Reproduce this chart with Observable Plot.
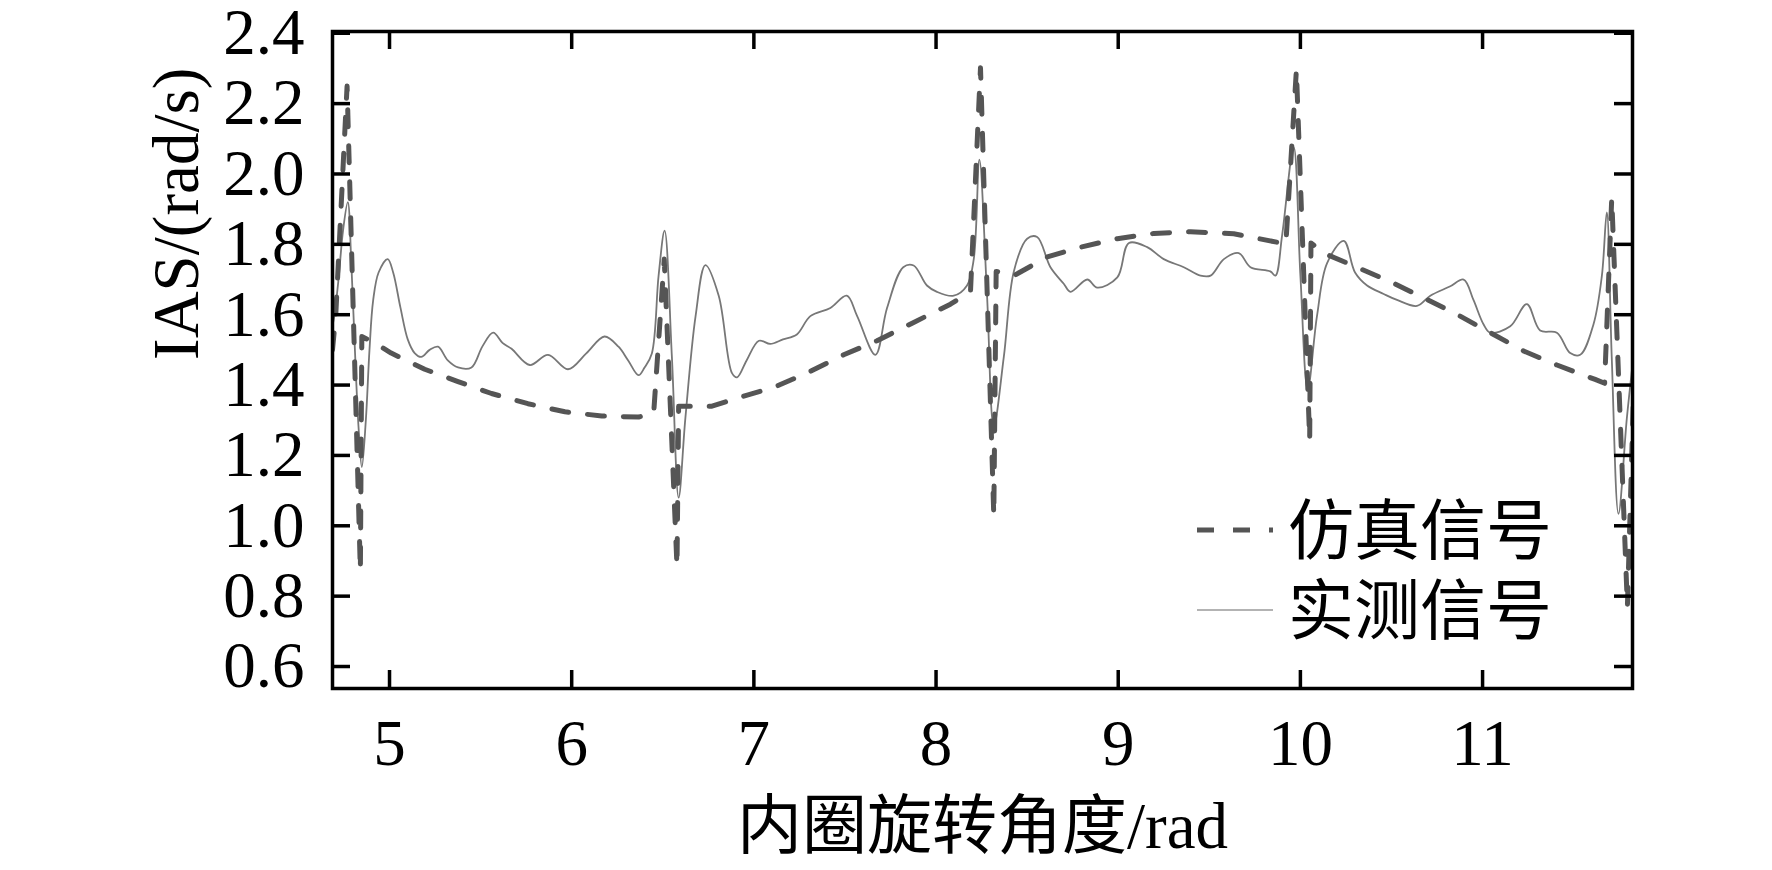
<!DOCTYPE html>
<html>
<head>
<meta charset="utf-8">
<script src="https://cdn.jsdelivr.net/npm/d3@7"></script>
<script src="https://cdn.jsdelivr.net/npm/@observablehq/plot@0.6"></script>
<style>
  html, body { margin: 0; padding: 0; background: #fff; }
</style>
</head>
<body>
<div id="chart"></div>
<script>
// ---- Data ----
const xTicks = [5, 6, 7, 8, 9, 10, 11];
const yTicks = [0.6, 0.8, 1.0, 1.2, 1.4, 1.6, 1.8, 2.0, 2.2, 2.4];
const xLabel = "内圈旋转角度/rad";
const yLabel = "IAS/(rad/s)";
const seriesNames = ["仿真信号", "实测信号"];

// 仿真信号 (simulated, dashed)
const simX = [4.687, 4.705, 4.767, 4.840, 4.848, 4.917, 5.009, 5.193, 5.376, 5.560, 5.760, 5.963, 6.165, 6.367, 6.450, 6.508, 6.578, 6.587, 6.770, 6.954, 7.108, 7.291, 7.493, 7.676, 7.877, 8.079, 8.189, 8.244, 8.317, 8.330, 8.427, 8.610, 8.793, 8.995, 9.196, 9.397, 9.634, 9.872, 9.920, 9.978, 10.051, 10.058, 10.128, 10.310, 10.494, 10.676, 10.859, 11.042, 11.225, 11.408, 11.618, 11.670, 11.709, 11.795, 11.830];
const simY = [1.50, 1.60, 2.25, 0.872, 1.538, 1.520, 1.491, 1.445, 1.410, 1.376, 1.347, 1.324, 1.312, 1.309, 1.320, 1.758, 0.884, 1.340, 1.340, 1.370, 1.393, 1.434, 1.486, 1.526, 1.578, 1.630, 1.665, 2.302, 1.028, 1.723, 1.711, 1.764, 1.792, 1.816, 1.831, 1.836, 1.830, 1.806, 1.800, 2.296, 1.243, 1.804, 1.775, 1.735, 1.694, 1.648, 1.601, 1.549, 1.497, 1.457, 1.416, 1.405, 1.931, 0.770, 1.400];

// 实测信号 (measured, thin solid)
const meaX = [4.687, 4.697, 4.720, 4.745, 4.771, 4.790, 4.810, 4.830, 4.848, 4.870, 4.890, 4.910, 4.940, 4.990, 5.020, 5.060, 5.100, 5.138, 5.174, 5.220, 5.266, 5.320, 5.376, 5.450, 5.510, 5.569, 5.620, 5.670, 5.770, 5.870, 5.980, 6.080, 6.180, 6.257, 6.310, 6.367, 6.400, 6.440, 6.477, 6.510, 6.550, 6.587, 6.624, 6.680, 6.734, 6.807, 6.880, 6.908, 6.960, 7.028, 7.090, 7.160, 7.236, 7.310, 7.420, 7.510, 7.567, 7.667, 7.731, 7.820, 7.877, 7.950, 8.005, 8.097, 8.170, 8.207, 8.238, 8.280, 8.317, 8.372, 8.427, 8.500, 8.555, 8.628, 8.701, 8.738, 8.830, 8.885, 8.995, 9.059, 9.159, 9.250, 9.360, 9.452, 9.507, 9.580, 9.662, 9.726, 9.835, 9.863, 9.900, 9.963, 10.000, 10.040, 10.091, 10.146, 10.238, 10.300, 10.366, 10.457, 10.530, 10.640, 10.713, 10.820, 10.896, 10.950, 11.005, 11.042, 11.152, 11.243, 11.316, 11.408, 11.481, 11.536, 11.609, 11.655, 11.682, 11.709, 11.746, 11.792, 11.828];
const meaY = [1.570, 1.596, 1.700, 1.840, 1.920, 1.750, 1.500, 1.280, 1.167, 1.300, 1.500, 1.640, 1.720, 1.758, 1.720, 1.620, 1.530, 1.491, 1.480, 1.500, 1.509, 1.470, 1.450, 1.450, 1.510, 1.549, 1.520, 1.503, 1.457, 1.486, 1.445, 1.490, 1.538, 1.509, 1.470, 1.428, 1.450, 1.490, 1.711, 1.839, 1.480, 1.080, 1.306, 1.596, 1.741, 1.654, 1.434, 1.422, 1.470, 1.526, 1.517, 1.530, 1.544, 1.596, 1.619, 1.654, 1.596, 1.486, 1.619, 1.735, 1.740, 1.683, 1.665, 1.654, 1.683, 1.758, 2.041, 1.654, 1.283, 1.480, 1.723, 1.816, 1.821, 1.735, 1.688, 1.665, 1.700, 1.677, 1.706, 1.804, 1.792, 1.758, 1.735, 1.711, 1.711, 1.758, 1.775, 1.735, 1.723, 1.711, 1.827, 2.076, 1.711, 1.387, 1.596, 1.746, 1.810, 1.720, 1.683, 1.659, 1.642, 1.625, 1.654, 1.680, 1.700, 1.642, 1.573, 1.549, 1.567, 1.630, 1.555, 1.549, 1.491, 1.486, 1.573, 1.711, 1.891, 1.480, 1.034, 1.306, 1.480];

const xDomain = [4.687, 11.823];
const yDomain = [0.5375, 2.405];

// ---- Layout ----
const W = 1772, H = 870;
const mL = 332, mR = 140, mT = 31, mB = 182;
const frameW = W - mL - mR, frameH = H - mT - mB;
const tickLen = 18;
const serif = "'Liberation Serif', 'Times New Roman', 'Noto Sans CJK SC', serif";

const sim = simX.map((x, i) => ({x, y: simY[i]}));
const mea = meaX.map((x, i) => ({x, y: meaY[i]}));

const plot = Plot.plot({
  width: W, height: H,
  marginLeft: mL, marginRight: mR, marginTop: mT, marginBottom: mB,
  style: {fontFamily: serif, fontSize: "65px", background: "#fff", color: "#000", overflow: "visible"},
  x: {domain: xDomain, label: null},
  y: {domain: yDomain, label: null},
  marks: [
    Plot.line(mea, {x: "x", y: "y", stroke: "#777777", strokeWidth: 1.8, curve: "catmull-rom", clip: true}),
    Plot.line(sim, {x: "x", y: "y", stroke: "#555555", strokeWidth: 5, strokeDasharray: "17,19", clip: true}),
    // inward ticks on all four sides
    Plot.ruleX(xTicks, {x: d => d, insetTop: frameH - tickLen, stroke: "#000", strokeWidth: 3.5}),
    Plot.ruleX(xTicks, {x: d => d, insetBottom: frameH - tickLen, stroke: "#000", strokeWidth: 3.5}),
    Plot.ruleY(yTicks, {y: d => d, insetRight: frameW - tickLen, stroke: "#000", strokeWidth: 3.5}),
    Plot.ruleY(yTicks, {y: d => d, insetLeft: frameW - tickLen, stroke: "#000", strokeWidth: 3.5}),
    Plot.frame({stroke: "#000", strokeWidth: 3.5}),
    Plot.axisX(xTicks, {tickSize: 0, tickPadding: 30, tickFormat: d => String(d), label: null, fontSize: 65}),
    Plot.axisY(yTicks, {tickSize: 0, tickPadding: 28, tickFormat: d => d.toFixed(1), label: null, fontSize: 65}),
    Plot.text([xLabel], {frameAnchor: "bottom", dy: 139, text: d => d, fontSize: 65, lineAnchor: "middle", fill: "#000"}),
    Plot.text([yLabel], {frameAnchor: "left", dx: -155, rotate: -90, text: d => d, fontSize: 65, lineAnchor: "middle", fill: "#000"})
  ]
});

document.getElementById("chart").appendChild(plot);

// ---- Legend (inside the frame, lower right) ----
const svg = d3.select(plot);
const lg = svg.append("g").attr("font-family", serif).attr("font-size", 66).attr("text-anchor", "start");
const legendX0 = 1197, legendX1 = 1273, legendTextX = 1288;
const legendRows = [530, 610];
const legendStyles = [
  {stroke: "#555555", width: 5, dash: "17,19"},
  {stroke: "#9a9a9a", width: 1.6, dash: null}
];
seriesNames.forEach((name, i) => {
  const yy = legendRows[i];
  const s = legendStyles[i];
  const ln = lg.append("line")
    .attr("x1", legendX0).attr("x2", legendX1)
    .attr("y1", yy).attr("y2", yy)
    .attr("stroke", s.stroke).attr("stroke-width", s.width);
  if (s.dash) ln.attr("stroke-dasharray", s.dash);
  lg.append("text")
    .attr("x", legendTextX).attr("y", yy)
    .attr("dy", "0.36em")
    .attr("text-anchor", "start")
    .attr("fill", "#000")
    .text(name);
});
</script>
</body>
</html>
